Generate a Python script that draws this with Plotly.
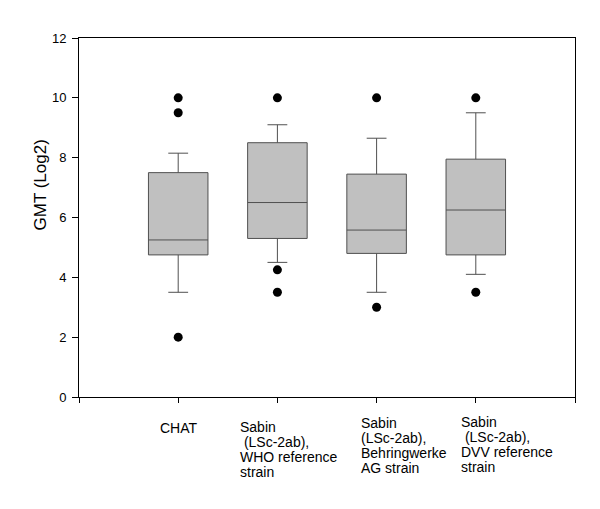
import plotly.graph_objects as go

# ---- data ----
positions = [1, 2, 3, 4]
lower_whisker = [3.5, 4.5, 3.5, 4.1]
q1 = [4.75, 5.3, 4.8, 4.75]
median = [5.25, 6.5, 5.58, 6.25]
q3 = [7.5, 8.5, 7.45, 7.95]
upper_whisker = [8.15, 9.1, 8.65, 9.5]
outlier_x = [1, 1, 1, 2, 2, 2, 3, 3, 4, 4]
outlier_y = [10, 9.5, 2, 10, 4.25, 3.5, 10, 3.0, 10, 3.5]
category_labels = [
    ["CHAT"],
    ["Sabin", "\u00a0(LSc-2ab),", "WHO reference", "strain"],
    ["Sabin", "(LSc-2ab),", "Behringwerke", "AG strain"],
    ["Sabin", "\u00a0(LSc-2ab),", "DVV reference", "strain"],
]
y_ticks = [0, 2, 4, 6, 8, 10, 12]
y_title = "GMT (Log2)"

# ---- layout constants ----
label_left = [0.80, 1.60, 2.82, 3.83]      # data-x of each label's left edge
label_top_px = [423, 422, 418, 417]        # window pixel y of first line cap top
line_step_px = 15
plot_left, plot_right = 79, 575
plot_top, plot_bottom = 38, 397            # window pixel y of plot area
title_cx, title_cy = 39.5, 185

fig = go.Figure()
fig.add_trace(go.Box(
    x=positions, q1=q1, median=median, q3=q3,
    lowerfence=lower_whisker, upperfence=upper_whisker,
    width=0.6, whiskerwidth=0.333, boxpoints=False,
    fillcolor="#c0c0c0", line=dict(color="#505050", width=1),
    showlegend=False, hoverinfo="skip",
))
fig.add_trace(go.Scatter(
    x=outlier_x, y=outlier_y, mode="markers",
    marker=dict(color="black", size=9, line=dict(width=0)),
    showlegend=False, hoverinfo="skip",
))

FONT = "Liberation Sans, Arial, sans-serif"
anns = []
h = plot_bottom - plot_top
w = plot_right - plot_left
for lx, top, lines in zip(label_left, label_top_px, category_labels):
    for i, t in enumerate(lines):
        cy = top + i * line_step_px + 5
        anns.append(dict(
            text=t, x=lx, xref="x", y=(plot_bottom - cy) / h, yref="paper",
            xanchor="left", yanchor="middle", showarrow=False, align="left",
            font=dict(size=14, color="black", family=FONT),
        ))
anns.append(dict(
    text=y_title, x=(title_cx - plot_left) / w, xref="paper",
    y=(plot_bottom - title_cy) / h, yref="paper", textangle=-90,
    xanchor="center", yanchor="middle", showarrow=False,
    font=dict(size=17, color="black", family=FONT),
))

# page body has an 8px default margin, so the figure is 8px smaller and margins shifted
fig.update_layout(
    width=592, height=501,
    margin=dict(l=71, r=25, t=30, b=112),
    paper_bgcolor="white", plot_bgcolor="white",
    font=dict(family=FONT, color="black"),
    annotations=anns,
    xaxis=dict(
        range=[0, 5], tickvals=[0, 1, 2, 3, 4, 5], showticklabels=False,
        ticks="outside", ticklen=5, tickcolor="black",
        showline=True, linecolor="black", linewidth=1, mirror=True,
        showgrid=False, zeroline=False,
    ),
    yaxis=dict(
        range=[0, 12], tickvals=y_ticks,
        ticks="outside", ticklen=6, tickcolor="black",
        tickfont=dict(size=13), ticklabelstandoff=3,
        showline=True, linecolor="black", linewidth=1, mirror=True,
        showgrid=False, zeroline=False,
    ),
)

fig.write_html("out.html")
